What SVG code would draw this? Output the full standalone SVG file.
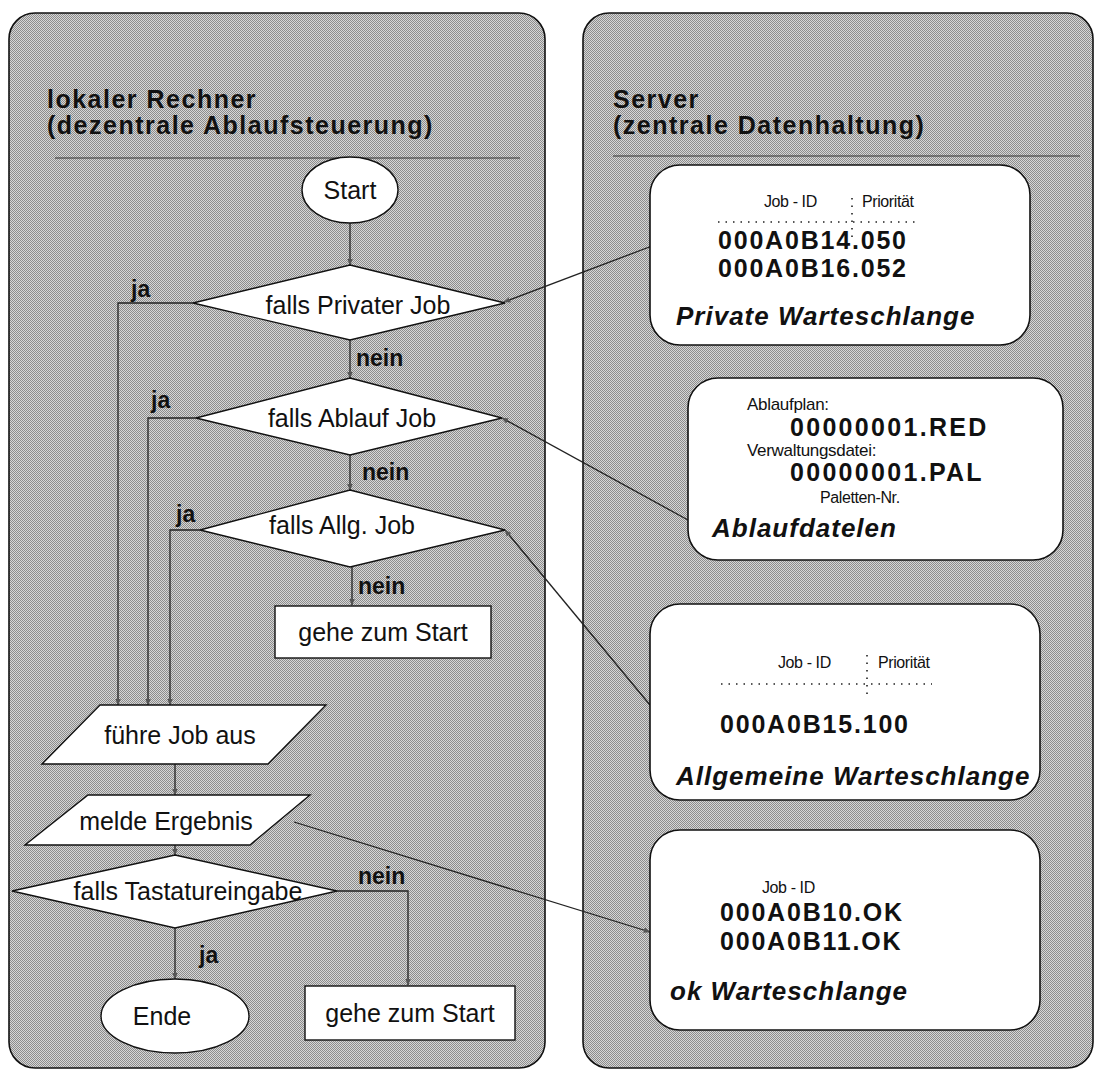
<svg xmlns="http://www.w3.org/2000/svg" width="1100" height="1075" viewBox="0 0 1100 1075">
  <defs>
    <!-- fine halftone fill for the two panels -->
    <pattern id="dither" width="2" height="2" patternUnits="userSpaceOnUse">
      <rect width="2" height="2" fill="#d6d6d6"/>
      <rect x="0" y="0" width="1" height="1" fill="#8c8c8c"/>
      <rect x="1" y="1" width="1" height="1" fill="#8c8c8c"/>
    </pattern>
    <marker id="arr" viewBox="0 0 10 10" refX="9" refY="5" markerWidth="7" markerHeight="7" orient="auto" markerUnits="userSpaceOnUse">
      <path d="M0,1 L10,5 L0,9 Z" fill="#555"/>
    </marker>
    <style>
      .panel { fill: url(#dither); stroke: #111; stroke-width: 1.6; }
      .shape { fill: #fff; stroke: #111; stroke-width: 1.4; }
      .box { fill: #fff; stroke: #111; stroke-width: 1.6; }
      .rule { stroke: #333; stroke-width: 1.2; }
      .conn { fill: none; stroke: #222; stroke-width: 1.3; }
      .dots { fill: none; stroke: #222; stroke-width: 1.6; stroke-dasharray: 1.5 6; }
      text { font-family: "Liberation Sans", Arial, sans-serif; fill: #111; }
      .head { font-size: 25px; font-weight: bold; letter-spacing: 1.5px; }
      .lbl { font-size: 25px; }
      .yn { font-size: 23px; font-weight: bold; }
      .small { font-size: 16px; letter-spacing: -0.4px; }
      .mid { font-size: 17px; letter-spacing: -0.3px; }
      .id { font-size: 25px; font-weight: bold; letter-spacing: 1.8px; }
      .file { font-size: 25px; font-weight: bold; letter-spacing: 2.3px; }
      .qname { font-size: 26px; font-weight: bold; font-style: italic; letter-spacing: 1px; }
    </style>
  </defs>

  <!-- panels -->
  <g id="panel-local">
    <rect class="panel" x="9" y="13" width="536" height="1055" rx="26"/>
    <text class="head" x="47" y="108">lokaler Rechner</text>
    <text class="head" x="47" y="134">(dezentrale Ablaufsteuerung)</text>
    <line class="rule" x1="55" y1="158" x2="520" y2="158"/>
  </g>
  <g id="panel-server">
    <rect class="panel" x="583" y="13" width="510" height="1055" rx="26"/>
    <text class="head" x="613" y="108">Server</text>
    <text class="head" x="613" y="134">(zentrale Datenhaltung)</text>
    <line class="rule" x1="613" y1="156" x2="1080" y2="156"/>
  </g>

  <!-- connectors -->
  <g id="connectors">
    <line class="conn" x1="350" y1="223" x2="350" y2="265" marker-end="url(#arr)"/>
    <line class="conn" x1="350" y1="340" x2="350" y2="378" marker-end="url(#arr)"/>
    <line class="conn" x1="350" y1="455" x2="350" y2="490" marker-end="url(#arr)"/>
    <line class="conn" x1="352" y1="567" x2="352" y2="605" marker-end="url(#arr)"/>
    <polyline class="conn" points="193,303 118,303 118,705" marker-end="url(#arr)"/>
    <polyline class="conn" points="196,418 148,418 148,705" marker-end="url(#arr)"/>
    <polyline class="conn" points="200,530 170,530 170,705" marker-end="url(#arr)"/>
    <line class="conn" x1="175" y1="764" x2="175" y2="795" marker-end="url(#arr)"/>
    <line class="conn" x1="175" y1="845" x2="175" y2="855" marker-end="url(#arr)"/>
    <line class="conn" x1="175" y1="928" x2="175" y2="979" marker-end="url(#arr)"/>
    <polyline class="conn" points="337,891 408,891 408,985" marker-end="url(#arr)"/>
    <!-- links to the server side -->
    <line class="conn" x1="652" y1="246" x2="504" y2="302" marker-end="url(#arr)"/>
    <line class="conn" x1="688" y1="520" x2="502" y2="418" marker-end="url(#arr)"/>
    <line class="conn" x1="650" y1="705" x2="505" y2="530" marker-end="url(#arr)"/>
    <line class="conn" x1="294" y1="822" x2="650" y2="932" marker-end="url(#arr)"/>
  </g>

  <!-- flowchart on the local machine -->
  <g id="start">
    <ellipse class="shape" cx="350" cy="190" rx="48" ry="33"/>
    <text class="lbl" x="350" y="199" text-anchor="middle">Start</text>
  </g>
  <g id="dec-private">
    <polygon class="shape" points="350,265 505,303 350,340 193,303"/>
    <text class="lbl" x="358" y="314" text-anchor="middle">falls Privater Job</text>
    <text class="yn" x="131" y="297">ja</text>
    <text class="yn" x="356" y="366">nein</text>
  </g>
  <g id="dec-ablauf">
    <polygon class="shape" points="350,378 502,418 350,455 196,418"/>
    <text class="lbl" x="352" y="427" text-anchor="middle">falls Ablauf Job</text>
    <text class="yn" x="151" y="408">ja</text>
    <text class="yn" x="362" y="480">nein</text>
  </g>
  <g id="dec-allg">
    <polygon class="shape" points="350,490 505,530 350,567 200,530"/>
    <text class="lbl" x="342" y="534" text-anchor="middle">falls Allg. Job</text>
    <text class="yn" x="176" y="522">ja</text>
    <text class="yn" x="358" y="594">nein</text>
  </g>
  <g id="goto-start-1">
    <rect class="shape" x="275" y="606" width="216" height="52"/>
    <text class="lbl" x="383" y="641" text-anchor="middle">gehe zum Start</text>
  </g>
  <g id="run-job">
    <polygon class="shape" points="100,705 326,705 268,764 42,764"/>
    <text class="lbl" x="180" y="744" text-anchor="middle">führe Job aus</text>
  </g>
  <g id="report">
    <polygon class="shape" points="88,795 310,795 250,845 25,845"/>
    <text class="lbl" x="166" y="830" text-anchor="middle">melde Ergebnis</text>
  </g>
  <g id="dec-keyboard">
    <polygon class="shape" points="175,855 337,891 175,928 12,891"/>
    <text class="lbl" x="188" y="900" text-anchor="middle">falls Tastatureingabe</text>
    <text class="yn" x="358" y="884">nein</text>
    <text class="yn" x="199" y="963">ja</text>
  </g>
  <g id="end">
    <ellipse class="shape" cx="175" cy="1016" rx="74" ry="37"/>
    <text class="lbl" x="162" y="1025" text-anchor="middle">Ende</text>
  </g>
  <g id="goto-start-2">
    <rect class="shape" x="305" y="986" width="210" height="54"/>
    <text class="lbl" x="410" y="1022" text-anchor="middle">gehe zum Start</text>
  </g>

  <!-- data kept on the server -->
  <g id="queue-private">
    <rect class="box" x="650" y="165" width="380" height="180" rx="30"/>
    <text class="small" x="764" y="207">Job - ID</text>
    <text class="small" x="862" y="207">Priorität</text>
    <line class="dots" x1="718" y1="222" x2="915" y2="222"/>
    <line class="dots" x1="852" y1="198" x2="852" y2="243"/>
    <text class="id" x="718" y="249">000A0B14.050</text>
    <text class="id" x="718" y="277">000A0B16.052</text>
    <text class="qname" x="676" y="325">Private Warteschlange</text>
  </g>
  <g id="files-ablauf">
    <rect class="box" x="688" y="378" width="375" height="182" rx="30"/>
    <text class="mid" x="747" y="410">Ablaufplan:</text>
    <text class="file" x="790" y="436">00000001.RED</text>
    <text class="mid" x="747" y="456">Verwaltungsdatei:</text>
    <text class="file" x="790" y="481">00000001.PAL</text>
    <text class="small" x="820" y="503">Paletten-Nr.</text>
    <text class="qname" x="712" y="537">Ablaufdatelen</text>
  </g>
  <g id="queue-allg">
    <rect class="box" x="650" y="604" width="390" height="196" rx="30"/>
    <text class="small" x="778" y="668">Job - ID</text>
    <text class="small" x="878" y="668">Priorität</text>
    <line class="dots" x1="721" y1="684" x2="932" y2="684"/>
    <line class="dots" x1="867" y1="655" x2="867" y2="700"/>
    <text class="id" x="720" y="733">000A0B15.100</text>
    <text class="qname" x="676" y="785">Allgemeine Warteschlange</text>
  </g>
  <g id="queue-ok">
    <rect class="box" x="650" y="830" width="390" height="200" rx="30"/>
    <text class="small" x="762" y="893">Job - ID</text>
    <text class="id" x="720" y="921">000A0B10.OK</text>
    <text class="id" x="720" y="950">000A0B11.OK</text>
    <text class="qname" x="670" y="1000">ok Warteschlange</text>
  </g>
</svg>
